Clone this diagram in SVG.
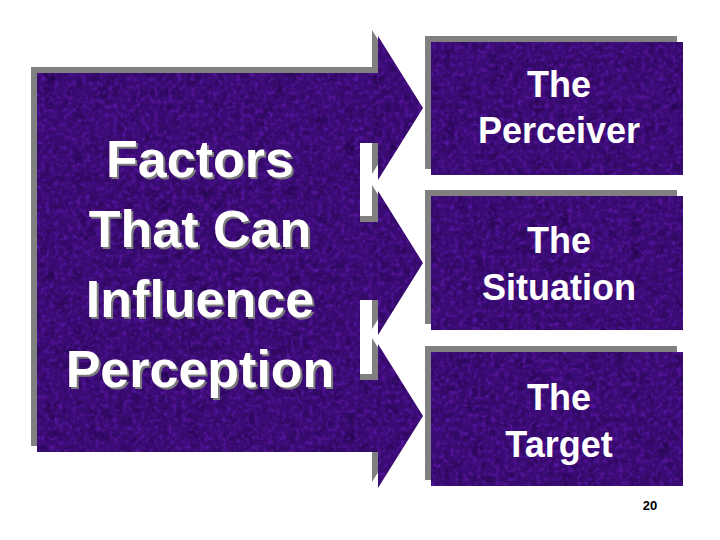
<svg xmlns="http://www.w3.org/2000/svg" width="720" height="540" viewBox="0 0 720 540">
<defs>
<filter id="tex" x="0" y="0" width="100%" height="100%" color-interpolation-filters="sRGB">
<feTurbulence type="fractalNoise" baseFrequency="0.22" numOctaves="3" seed="7" result="n1"/>
<feColorMatrix in="n1" type="matrix" values="0 0 0 0 0.40  0 0 0 0 0.10  0 0 0 0 0.72  0 0 0 1.8 -0.85" result="light"/>
<feTurbulence type="turbulence" baseFrequency="0.07" numOctaves="2" seed="3" result="n2"/>
<feColorMatrix in="n2" type="matrix" values="0 0 0 0 0.14  0 0 0 0 0.02  0 0 0 0 0.30  0 0 0 1.2 -0.15" result="dark"/>
<feComposite in="dark" in2="SourceGraphic" operator="atop" result="s1"/>
<feComposite in="light" in2="s1" operator="atop"/>
</filter>
<filter id="ts" x="-10%" y="-20%" width="120%" height="150%" color-interpolation-filters="sRGB">
<feOffset in="SourceAlpha" dx="2" dy="2" result="o"/>
<feFlood flood-color="#7a7a7a"/>
<feComposite in2="o" operator="in" result="sh"/>
<feMerge><feMergeNode in="sh"/><feMergeNode in="SourceGraphic"/></feMerge>
</filter>
</defs>
<style>
.shadow{fill:#808080}
.felt{fill:#3a0b74;filter:url(#tex)}
.big{font-family:"Liberation Sans",Arial,sans-serif;font-weight:bold;font-size:52px;text-anchor:middle;fill:#ffffff}
.mid{font-family:"Liberation Sans",Arial,sans-serif;font-weight:bold;font-size:36px;text-anchor:middle;fill:#ffffff}
</style>
<rect width="720" height="540" fill="#ffffff"/>

<g id="factors">
<path class="shadow" transform="translate(-6,-6)" d="M37,73 H378 V36 L423,108 L378,180 V143 H360 V222 H378 V191 L423,263 L378,335 V300 H360 V380 H378 V344 L423,416 L378,488 V452 H37 Z"/>
<path class="felt" d="M37,73 H378 V36 L423,108 L378,180 V143 H360 V222 H378 V191 L423,263 L378,335 V300 H360 V380 H378 V344 L423,416 L378,488 V452 H37 Z"/>
<g class="big" filter="url(#ts)">
<text x="200" y="177">Factors</text>
<text x="200" y="247">That Can</text>
<text x="200" y="317">Influence</text>
<text x="200" y="387">Perception</text>
</g>
</g>

<g id="connectors"></g>

<g id="perceiver">
<rect class="shadow" x="425" y="36" width="252" height="133"/>
<rect class="felt" x="431" y="42" width="252" height="133"/>
<text class="mid" x="559" y="97">The</text>
<text class="mid" x="559" y="143">Perceiver</text>
</g>

<g id="situation">
<rect class="shadow" x="425" y="190" width="252" height="134"/>
<rect class="felt" x="431" y="196" width="252" height="134"/>
<text class="mid" x="559" y="253">The</text>
<text class="mid" x="559" y="300">Situation</text>
</g>

<g id="target">
<rect class="shadow" x="425" y="346" width="252" height="134"/>
<rect class="felt" x="431" y="352" width="252" height="134"/>
<text class="mid" x="559" y="410">The</text>
<text class="mid" x="559" y="457">Target</text>
</g>

<text x="650" y="510" font-family="Liberation Sans, Arial, sans-serif" font-size="13" font-weight="bold" text-anchor="middle" fill="#000000">20</text>
</svg>
